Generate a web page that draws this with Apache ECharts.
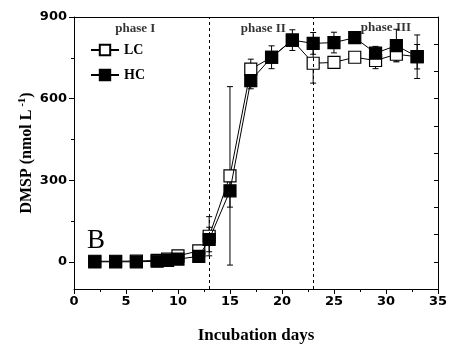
<!DOCTYPE html>
<html><head><meta charset="utf-8">
<script src="https://cdn.jsdelivr.net/npm/echarts@6/dist/echarts.min.js"></script>
<style>html,body{margin:0;padding:0;background:#fff}#c{width:450px;height:349px}</style>
</head><body><div id="c"></div>
<script>
var days  = [2, 4, 6, 8, 9, 10, 12, 13, 15, 17, 19, 21, 23, 25, 27, 29, 31, 33];
var lcVal = [2, 2, 3, 5, 10, 22, 40, 94, 316, 708, 752, 815, 730, 733, 752, 740, 763, 754];
var lcErr = [1, 1, 1, 2, 3, 5, 8, 72, 328, 37, 20, 20, 73, 15, 10, 30, 25, 45];
var hcVal = [0, 0, 0, 2, 5, 10, 20, 82, 261, 666, 752, 815, 803, 806, 824, 767, 795, 754];
var hcErr = [1, 1, 1, 1, 2, 3, 5, 45, 60, 30, 42, 38, 40, 38, 15, 25, 60, 80];
var phaseBounds = [13, 23];
var phaseNames = ['phase I', 'phase II', 'phase III'];
var phasePos = [[5.9, 857], [18.2, 857], [30.0, 860]];
var yLabels = [0, 300, 600, 900];
var yMinor = [150, 450, 750];

var serif = '"Liberation Serif","Times New Roman",serif';
var sans = '"DejaVu Sans",Arial,sans-serif';

function pts(v){ return days.map(function(d,i){ return [d, v[i]]; }); }
function errs(v,e){ return days.map(function(d,i){ return [d, v[i]-e[i], v[i]+e[i]]; }); }

function errRender(params, api){
  var x = api.value(0), lo = api.value(1), hi = api.value(2);
  var p1 = api.coord([x, hi]), p2 = api.coord([x, lo]);
  var w = 3;
  var st = {stroke:'#000', lineWidth:1};
  return {type:'group', children:[
    {type:'line', shape:{x1:p1[0],y1:p1[1],x2:p2[0],y2:p2[1]}, style:st},
    {type:'line', shape:{x1:p1[0]-w,y1:p1[1],x2:p1[0]+w,y2:p1[1]}, style:st},
    {type:'line', shape:{x1:p2[0]-w,y1:p2[1],x2:p2[0]+w,y2:p2[1]}, style:st}
  ]};
}

var chart = echarts.init(document.getElementById('c'), null, {renderer:'canvas'});
var grid = {left:74, right:10, top:17, bottom:59};
var option = {
  animation:false,
  grid: grid,
  legend: {
    left: 85, top: 38, orient:'vertical', itemGap: 11,
    itemWidth: 28, itemHeight: 13,
    data: ['LC','HC'],
    textStyle: {fontFamily: serif, fontWeight:'bold', fontSize:14, color:'#000'}
  },
  xAxis: [{
    type:'value', min:0, max:35, interval:5,
    axisLine:{show:true, onZero:false, lineStyle:{color:'#000', width:1}},
    axisTick:{show:true, inside:false, length:5, lineStyle:{color:'#000'}},
    minorTick:{show:true, splitNumber:2, length:3, lineStyle:{color:'#000'}},
    splitLine:{show:false},
    axisLabel:{fontFamily:sans, fontWeight:'bold', fontSize:13, color:'#000', margin:6},
    name:'Incubation days', nameLocation:'middle', nameGap:38, nameMoveOverlap:false,
    nameTextStyle:{fontFamily:serif, fontWeight:'bold', fontSize:17, color:'#000'}
  },{
    type:'value', min:0, max:35, position:'top',
    axisLine:{show:true, onZero:false, lineStyle:{color:'#000', width:1}},
    axisTick:{show:false}, axisLabel:{show:false}, splitLine:{show:false}
  }],
  yAxis: [{
    type:'value', min:-100, max:900,
    axisLine:{show:true, onZero:false, lineStyle:{color:'#000', width:1}},
    axisTick:{show:true, length:5, customValues: yLabels, lineStyle:{color:'#000'}},
    splitLine:{show:false},
    axisLabel:{customValues: yLabels, fontFamily:sans, fontWeight:'bold', fontSize:13, color:'#000', margin:7},
    name:'{a|DMSP (nmol L}{s| -1}{a|)}', nameLocation:'middle', nameGap:38, nameRotate:90, nameMoveOverlap:false,
    nameTextStyle:{rich:{
      a:{fontFamily:serif, fontWeight:'bold', fontSize:16, color:'#000'},
      s:{fontFamily:serif, fontWeight:'bold', fontSize:11, color:'#000', verticalAlign:'top', padding:[0,0,8,0]}
    }}
  },{
    type:'value', min:-100, max:900, position:'left',
    axisLine:{show:false},
    axisTick:{show:true, length:3, customValues: yMinor, lineStyle:{color:'#000'}},
    axisLabel:{show:false}, splitLine:{show:false}
  },{
    type:'value', min:-100, max:900, interval:100, position:'right',
    axisLine:{show:true, onZero:false, lineStyle:{color:'#000', width:1}},
    axisTick:{show:true, inside:true, length:4, lineStyle:{color:'#000'}},
    axisLabel:{show:false}, splitLine:{show:false}
  }],
  graphic: [{
    type:'text', left: 87, top: 227,
    style:{text:'B', fontFamily:serif, fontSize:27, fill:'#000'}
  }],
  series: [
    {type:'custom', name:'lcErr', renderItem: errRender, data: errs(lcVal,lcErr), z:1, silent:true},
    {type:'custom', name:'hcErr', renderItem: errRender, data: errs(hcVal,hcErr), z:1, silent:true},
    {type:'line', name:'LC', data: pts(lcVal), symbol:'rect', symbolSize:12, z:3,
     lineStyle:{color:'#000', width:1}, itemStyle:{color:'#fff', borderColor:'#000', borderWidth:1.2},
     markLine:{silent:true, symbol:'none', label:{show:false},
       lineStyle:{color:'#000', type:[3,3], width:1},
       data: phaseBounds.map(function(b){ return {xAxis:b}; })}},
    {type:'line', name:'HC', data: pts(hcVal), symbol:'rect', symbolSize:12, z:4,
     lineStyle:{color:'#000', width:1}, itemStyle:{color:'#000', borderColor:'#000', borderWidth:1.2}},
    {type:'scatter', name:'phases', data: phasePos.map(function(p,i){ return {value:p, name:phaseNames[i]}; }),
     symbolSize:0, silent:true, z:5,
     label:{show:true, position:'inside', formatter:function(p){ return p.name; },
       fontFamily:serif, fontWeight:'bold', fontSize:13, color:'#000'}}
  ]
};
chart.setOption(option);
</script></body></html>
